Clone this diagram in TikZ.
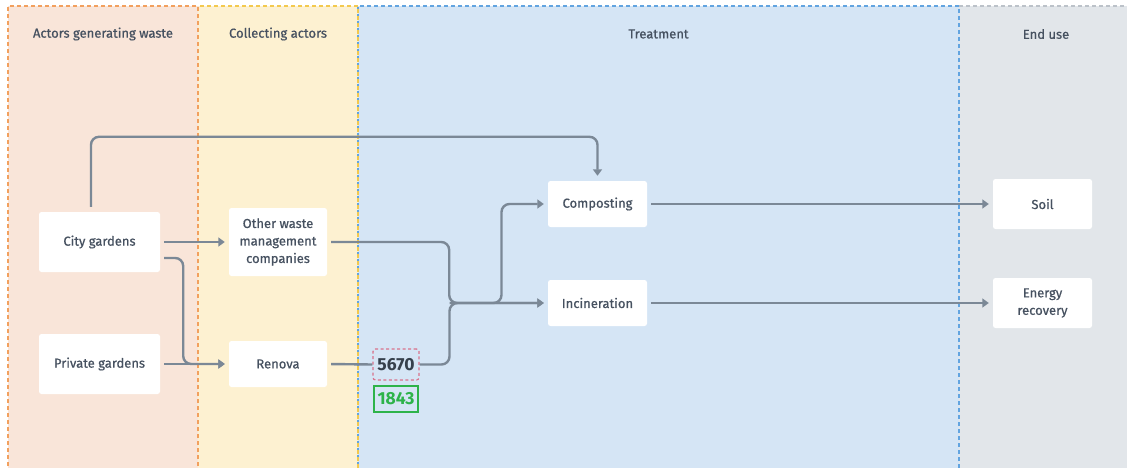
\documentclass[tikz,border=0pt]{standalone}
\usepackage{fontspec}
\setmainfont{Fira Sans}[UprightFeatures={FakeBold=0.7}]
\usetikzlibrary{arrows.meta}

\definecolor{actfill}{HTML}{F9E5D9}
\definecolor{actline}{HTML}{F2A05E}
\definecolor{colfill}{HTML}{FDF1D1}
\definecolor{colline}{HTML}{F3C94E}
\definecolor{trefill}{HTML}{D5E5F5}
\definecolor{treline}{HTML}{62A4E0}
\definecolor{endfill}{HTML}{E2E6EA}
\definecolor{endline}{HTML}{BCC2C9}
\definecolor{txt}{HTML}{465160}
\definecolor{flowc}{HTML}{7B8896}
\definecolor{numdark}{HTML}{36404C}
\definecolor{numpink}{HTML}{D9728C}
\definecolor{numgreen}{HTML}{2DB34A}

\tikzset{
  lanebox/.style={dash pattern=on 4pt off 3pt, line width=1.2pt},
  header/.style={text=txt, font=\fontsize{13}{15}\selectfont},
  actor/.style={fill=white, rounded corners=2.5pt, align=center, text=txt,
    font=\fontsize{13}{17.5}\selectfont, inner sep=0pt},
  flow/.style={draw=flowc, line width=2.4pt, rounded corners=8pt,
    shorten <=4pt, shorten >=4pt,
    -{Triangle[length=6.5pt,width=9pt]}},
  plain/.style={draw=flowc, line width=2.4pt, rounded corners=8pt, shorten <=4pt},
  qty/.style={inner sep=0pt, font=\fontsize{17.5}{19}\selectfont\bfseries},
}

\begin{document}
\begin{tikzpicture}[x=1pt,y=-1pt]
\useasboundingbox (0,0) rectangle (1127,468);

% swim lanes
\begin{scope}
  \clip (0,0) rectangle (1127,468);
  \fill[actfill] (8,6) rectangle (198,480);
  \fill[colfill] (198,6) rectangle (358,480);
  \fill[trefill] (358,6) rectangle (959,480);
  \fill[endfill] (959,6) rectangle (1140,480);
  \draw[lanebox, endline] (959,6) -- (1140,6);
  \draw[lanebox, treline] (358,480) -- (358,6) -- (959,6) -- (959,480);
  \draw[lanebox, colline] (198,480) -- (198,6) -- (358,6) -- (358,480);
  \draw[lanebox, actline] (8,480) -- (8,6) -- (198,6) -- (198,480);
\end{scope}

\node[header] (h1) at (103,34) {Actors generating waste};
\node[header] (h2) at (278,34) {Collecting actors};
\node[header] (h3) at (658.5,34) {Treatment};
\node[header] (h4) at (1046,34) {End use};

% actors
\node[actor, minimum width=121pt, minimum height=60pt] (cg) at (99.5,242) {City gardens};
\node[actor, minimum width=121pt, minimum height=60pt] (pg) at (99.5,364) {Private gardens};
\node[actor, minimum width=98pt, minimum height=68pt] (owm) at (278,242) {Other waste\\management\\companies};
\node[actor, minimum width=98pt, minimum height=46pt] (ren) at (278,364) {Renova};
\node[actor, minimum width=99pt, minimum height=46pt] (comp) at (597.5,204) {Composting};
\node[actor, minimum width=99pt, minimum height=46pt] (inc) at (597.5,303) {Incineration};
\node[actor, minimum width=99pt, minimum height=50pt] (soil) at (1042.5,204) {Soil};
\node[actor, minimum width=99pt, minimum height=50pt] (energy) at (1042.5,303) {Energy\\recovery};

% quantities
\node[qty, draw=numpink, dash pattern=on 3pt off 2.5pt, line width=1.2pt, rounded corners=2.5pt,
  minimum width=46pt, minimum height=31pt, text=numdark] (q1) at (396,364.5) {5670};
\node[qty, draw=numgreen, line width=1.2pt, minimum width=44pt, minimum height=26pt,
  text=numgreen] (q2) at (396,399) {1843};

\coordinate (jn) at (449.5,303);

% flows
\draw[flow, shorten <=0pt, shorten >=5pt] ([xshift=-8.5pt,yshift=5pt]cg.north) -- ++(0,-70) -| (comp.north);
\draw[flow] (cg.east) -- (owm.west);
\draw[flow] ([yshift=-16pt]cg.east) -- ++(23,0) |- (ren.west);
\draw[flow] (pg.east) -- (ren.west);
\draw[flow] (owm.east) -- ++(122,0) |- (inc.west);
\draw[plain] (ren.east) -- (q1.west);
\draw[flow, shorten <=0pt] (q1.east) -| (jn) -- (inc.west);
\draw[flow, shorten <=0pt] (jn) -- ++(52,0) |- (comp.west);
\draw[flow] (comp.east) -- (soil.west);
\draw[flow] (inc.east) -- (energy.west);
\end{tikzpicture}
\end{document}
